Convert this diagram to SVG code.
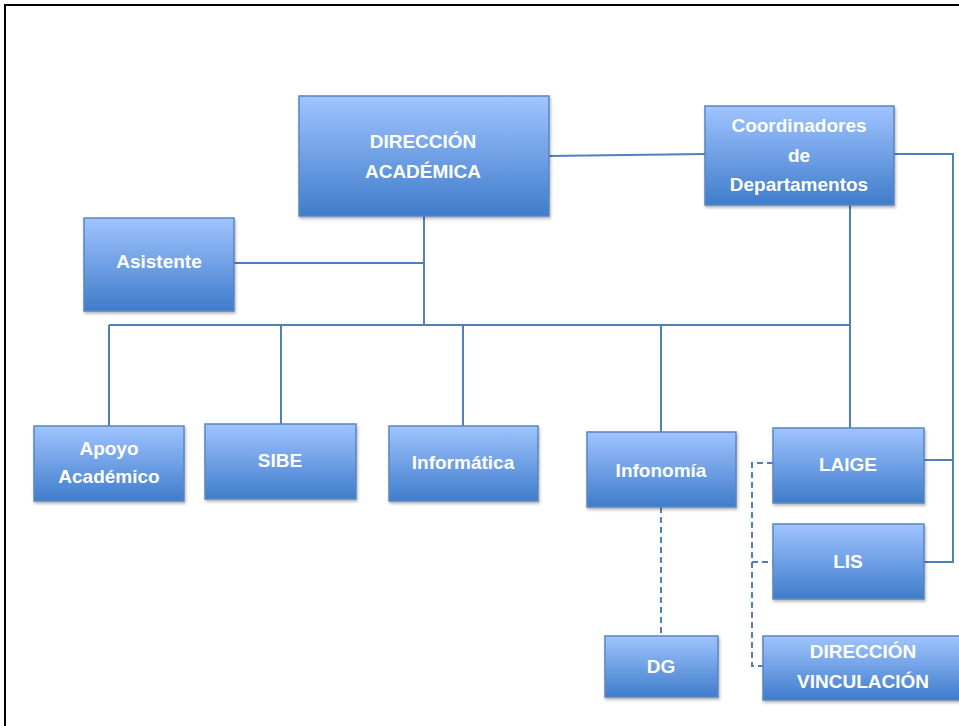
<svg xmlns="http://www.w3.org/2000/svg" width="959" height="726" viewBox="0 0 959 726">
<style>
.box{fill:url(#g);stroke:#5a86c0;stroke-width:1.5;filter:url(#sh)}
.t{font-family:"Liberation Sans",Arial,sans-serif;font-weight:bold;font-size:19px;fill:#fff;text-anchor:middle}
.c{fill:none;stroke:#4f7fbd;stroke-width:2}
.d{fill:none;stroke:#4f7fbd;stroke-width:2;stroke-dasharray:6 4}
</style>
<defs>
<linearGradient id="g" x1="0" y1="0" x2="0" y2="1">
<stop offset="0" stop-color="#a0c4ff"/>
<stop offset="1" stop-color="#3f7ccb"/>
</linearGradient>
<filter id="sh" x="-10%" y="-10%" width="120%" height="130%">
<feDropShadow dx="1" dy="2" stdDeviation="1.5" flood-color="#000" flood-opacity="0.3"/>
</filter>
</defs>
<rect x="0" y="0" width="959" height="726" fill="#fff"/>
<rect x="5" y="5" width="1000" height="1000" fill="none" stroke="#000" stroke-width="2"/>
<g id="connectors">
<path class="c" d="M424 216V325"/>
<path class="c" d="M234 263H424"/>
<path class="c" d="M109 325H850"/>
<path class="c" d="M109 325V426"/>
<path class="c" d="M281 325V424"/>
<path class="c" d="M463 325V426"/>
<path class="c" d="M661 325V432"/>
<path class="c" d="M850 205V428"/>
<path class="c" d="M549 156L705 154"/>
<path class="c" d="M894 154H953V562H924"/>
<path class="c" d="M924 460H953"/>
<path class="d" d="M661 507V636"/>
<path class="d" d="M773 463H752V666H763"/>
<path class="d" d="M752 562H773"/>
</g>
<g id="direccion-academica"><rect class="box" x="299" y="96" width="250" height="120"/><text class="t" x="423" y="148">DIRECCIÓN</text><text class="t" x="423" y="178">ACADÉMICA</text></g>
<g id="coordinadores"><rect class="box" x="705" y="106" width="189" height="99"/><text class="t" x="799" y="132">Coordinadores</text><text class="t" x="799" y="162">de</text><text class="t" x="799" y="191">Departamentos</text></g>
<g id="asistente"><rect class="box" x="84" y="218" width="150" height="93"/><text class="t" x="159" y="268">Asistente</text></g>
<g id="apoyo"><rect class="box" x="34" y="426" width="150" height="75"/><text class="t" x="109" y="455">Apoyo</text><text class="t" x="109" y="483">Académico</text></g>
<g id="sibe"><rect class="box" x="205" y="424" width="151" height="75"/><text class="t" x="280" y="467">SIBE</text></g>
<g id="informatica"><rect class="box" x="389" y="426" width="149" height="75"/><text class="t" x="463" y="469">Informática</text></g>
<g id="infonomia"><rect class="box" x="587" y="432" width="149" height="75"/><text class="t" x="661" y="477">Infonomía</text></g>
<g id="laige"><rect class="box" x="773" y="428" width="151" height="75"/><text class="t" x="848" y="471">LAIGE</text></g>
<g id="lis"><rect class="box" x="773" y="524" width="151" height="75"/><text class="t" x="848" y="568">LIS</text></g>
<g id="dg"><rect class="box" x="605" y="636" width="113" height="61"/><text class="t" x="661" y="673">DG</text></g>
<g id="direccion-vinculacion"><rect class="box" x="763" y="636" width="200" height="64"/><text class="t" x="863" y="658">DIRECCIÓN</text><text class="t" x="863" y="688">VINCULACIÓN</text></g>
</svg>
